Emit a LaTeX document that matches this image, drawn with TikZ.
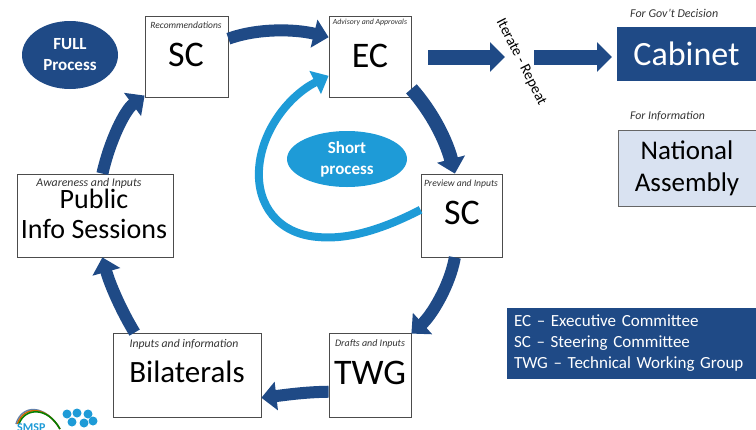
\documentclass[tikz,border=0pt]{standalone}
\usepackage{fontspec}
\setmainfont{Carlito}
\usepackage{xcolor}
\usetikzlibrary{arrows.meta,shapes.geometric}

\definecolor{fullblue}{HTML}{1F4A86}
\definecolor{shortblue}{HTML}{1E9BD7}
\definecolor{palebox}{HTML}{D9E2F1}

\tikzset{
	stage/.style={draw=black!70, line width=0.8, fill=white, inner sep=0},
	tagline/.style={font=\itshape\fontsize{#1}{#1}\selectfont, text=black!80},
	bigname/.style={font=\fontsize{#1}{30}\selectfont, align=center, text=black},
	flow/.style={draw=fullblue, line width=12, -{Triangle[width=28,length=15]}},
	straightflow/.style={draw=fullblue, line width=15, -{Triangle[width=29,length=15]}},
	shortflow/.style={draw=shortblue, line width=8, -{Triangle[width=25,length=15]}}
}

\begin{document}
\begin{tikzpicture}[x=1pt,y=-1pt]

\useasboundingbox (0,0) rectangle (756,429);

% boxes of the cycle
\node[stage, minimum width=83, minimum height=81] (screc) at (186.5,56.5) {};
\node[stage, minimum width=82, minimum height=81] (ec) at (370,56.5) {};
\node[stage, minimum width=81, minimum height=83] (scprev) at (461.5,215.5) {};
\node[stage, minimum width=82, minimum height=84] (twg) at (370,375) {};
\node[stage, minimum width=148, minimum height=84] (bilat) at (187,375) {};
\node[stage, minimum width=156, minimum height=83] (public) at (95,215.5) {};

\node[bigname=36] (sclabel) at (186,55) {SC};
\node[bigname=36] (eclabel) at (370,56) {EC};
\node[bigname=36] (prevlabel) at (462,213) {SC};
\node[bigname=36] (twglabel) at (370,373) {TWG};
\node[bigname=31] (bilatlabel) at (187,372) {Bilaterals};
\node[bigname=28] (publabel) at (94,214) {Public\\Info Sessions};

\node[tagline=9.5] (screctag) at (186,25) {Recommendations};
\node[tagline=7.8] (ectag) at (370,22) {Advisory and Approvals};
\node[tagline=9.6] (prevtag) at (461,184) {Preview and Inputs};
\node[tagline=10] (twgtag) at (370,344) {Drafts and Inputs};
\node[tagline=11.7] (bilattag) at (184,344) {Inputs and information};
\node[tagline=11.8] (pubtag) at (89,183) {Awareness and Inputs};

% right hand side
\node[fill=fullblue, minimum width=139, minimum height=54, inner sep=0, text=white, font=\fontsize{34}{36}\selectfont] (cabinet) at (686.5,54) {Cabinet};
\node[draw=black!60, line width=0.8, fill=palebox, minimum width=138, minimum height=76, inner sep=0, align=center, font=\fontsize{27}{32}\selectfont] (assembly) at (687,168) {National\\Assembly};
\node[tagline=12, anchor=west, inner sep=0] (decide) at (630,13) {For Gov't Decision};
\node[tagline=11.8, anchor=west, inner sep=0] (inform) at (630,116) {For Information};
\node[fill=fullblue, minimum width=249, minimum height=71, inner sep=0, text=white, align=left, text width=235, font=\fontsize{17}{21}\selectfont] (legend) at (631.5,343.5) {EC -- Executive Committee\\SC -- Steering Committee\\TWG -- Technical Working Group};

% ellipses
\node[ellipse, fill=fullblue, minimum width=96, minimum height=68, inner sep=0, text=white, align=center, font=\bfseries\fontsize{17}{21}\selectfont] (full) at (70,55) {FULL\\Process};
\node[ellipse, fill=shortblue, minimum width=120, minimum height=56, inner sep=0, text=white, align=center, font=\bfseries\fontsize{17}{21}\selectfont] (short) at (347,159) {Short\\process};

% iterate label
\node[rotate=-63, font=\fontsize{15}{16}\selectfont] (iterate) at (521,62) {Iterate - Repeat};

% arrows of the cycle
\draw[flow] (screc.23) .. controls (258,28) and (295,29) .. (ec.155);
\draw[flow, line width=14] (ec.322) .. controls (432,112) and (446,140) .. (scprev.99);
\draw[flow] (scprev.261) .. controls (450,285) and (432,315) .. (twg.45);
\draw[flow] (twg.202) .. controls (305,392) and (285,395) .. (bilat.343);
\draw[flow] (bilat.141) .. controls (122,312) and (110,285) .. (public.280);
\draw[flow] (public.80) .. controls (110,140) and (125,110) .. (screc.223);

% straight arrows
\coordinate (ecright) at (428,57);
\coordinate (midleft) at (505,57);
\coordinate (midright) at (534,57);
\coordinate (cableft) at (612,57);
\draw[straightflow] (ecright) -- (midleft);
\draw[straightflow] (midright) -- (cableft);

% short process
\draw[shortflow] (scprev.172) .. controls (385,228) and (350,240) .. (318,237)
	.. controls (278,234) and (257,205) .. (259,170)
	.. controls (261,130) and (290,95) .. (ec.205);

% logo
\foreach \c/\o in {fullblue!70/0,orange!80!black/1.5,green!50!black/3}{
	\draw[\c, line width=1.5] (16+\o,424) .. controls (22+\o,404+\o) and (45+\o,404+\o) .. (60,429);
}
\node[text=shortblue, font=\bfseries\fontsize{12}{12}\selectfont, anchor=west, inner sep=0] (smsp) at (17,428) {SMSP};
\foreach \x/\y in {67/414,77/413,88/414,72/422,84/423,93/421}{
	\fill[shortblue] (\x,\y) circle (4.5);
}

\end{tikzpicture}
\end{document}
